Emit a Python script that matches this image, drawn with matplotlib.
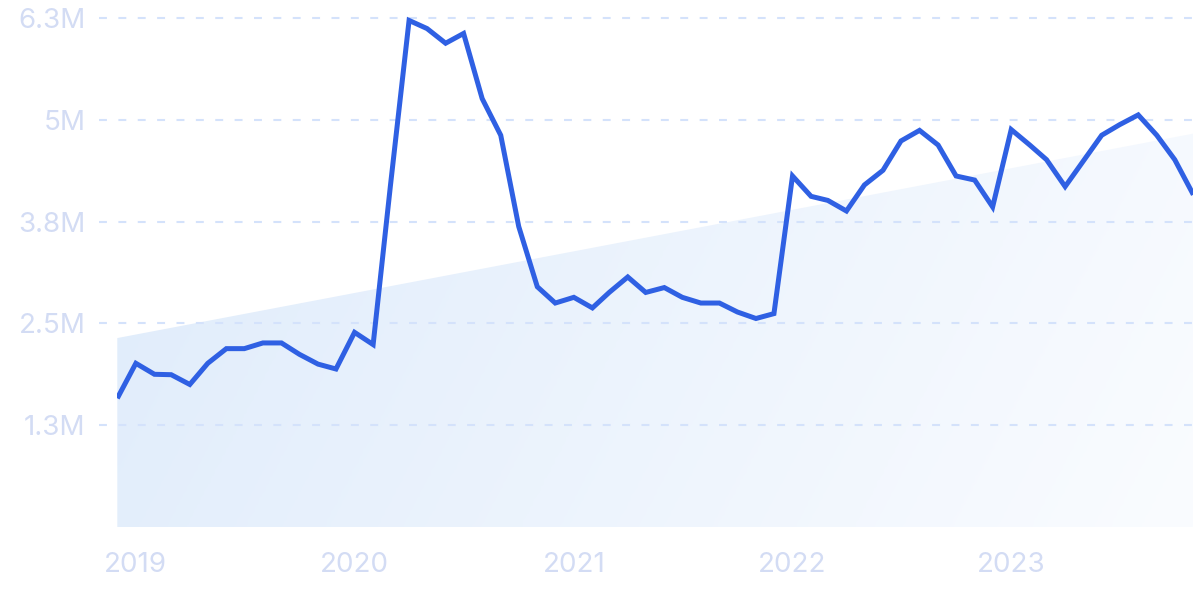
import numpy as np
import pandas as pd
import matplotlib
matplotlib.use("Agg")
import matplotlib.pyplot as plt
import matplotlib.dates as mdates
from matplotlib.colors import LinearSegmentedColormap
from matplotlib.patches import Polygon

# monthly values, Dec 2018 .. Nov 2023 (millions)
months = pd.date_range("2018-12-01", periods=60, freq="MS")
values_m = [1.58, 2.01, 1.875, 1.87, 1.75, 2.01, 2.19, 2.19, 2.26, 2.26,
            2.12, 2.00, 1.94, 2.39, 2.24, 4.20, 6.22, 6.12, 5.94, 6.06,
            5.26, 4.81, 3.69, 2.95, 2.75, 2.82, 2.69, 2.88, 3.07, 2.88,
            2.94, 2.82, 2.75, 2.75, 2.64, 2.56, 2.62, 4.31, 4.06, 4.01,
            3.88, 4.20, 4.38, 4.74, 4.87, 4.69, 4.31, 4.26, 3.93, 4.88,
            4.69, 4.51, 4.18, 4.49, 4.81, 4.94, 5.06, 4.81, 4.51, 4.08]

# trend band (start / end value, millions)
trend_start_m = 2.32
trend_end_m = 4.83

y_ticks = [1.25e6, 2.5e6, 3.75e6, 5e6, 6.25e6]
y_labels = ["1.3M", "2.5M", "3.8M", "5M", "6.3M"]
x_tick_years = ["2019", "2020", "2021", "2022", "2023"]

LINE_COLOR = "#2f60e3"
LABEL_COLOR = "#d3dcf4"
GRID_COLOR = "#d4e2fb"

plt.rcParams["font.family"] = ["Inter", "DejaVu Sans"]

values = np.array(values_m) * 1e6
x = mdates.date2num(months.to_pydatetime())
ymax = 6.348e6

fig = plt.figure(figsize=(12, 5.99), dpi=100)
ax = fig.add_axes([0.09775, 0.1202, 0.8967, 0.8631])
ax.set_xlim(x[0], x[-1])
ax.set_ylim(0, ymax)

# gradient filled trend band
trend_poly = Polygon([(x[0], 0), (x[0], trend_start_m * 1e6),
                      (x[-1], trend_end_m * 1e6), (x[-1], 0)],
                     closed=True, facecolor="none", edgecolor="none")
ax.add_patch(trend_poly)
gx, gy = np.meshgrid(np.linspace(0, 1, 300), np.linspace(0, 1, 200))
grad = 0.8 * gx + 0.2 * (1 - gy)
cmap = LinearSegmentedColormap.from_list("band", ["#deebfb", "#fafcff"])
im = ax.imshow(grad, extent=[x[0], x[-1], ymax, 0], aspect="auto", cmap=cmap,
               zorder=1, interpolation="bicubic")
im.set_clip_path(trend_poly)

# dashed gridlines, slightly past the axes on both sides
for v in y_ticks:
    ax.plot([-0.017, 1.006], [v, v], transform=ax.get_yaxis_transform(),
            color=GRID_COLOR, lw=1.5, dashes=(3.8, 5.5), clip_on=False, zorder=2)

ax.plot(x, values, color=LINE_COLOR, lw=3.6, solid_joinstyle="miter",
        solid_capstyle="butt", zorder=3)

ax.set_yticks(y_ticks, y_labels)
year_pos = [mdates.date2num(pd.Timestamp(f"{y}-01-01")) for y in x_tick_years]
ax.set_xticks(year_pos, x_tick_years)
ax.tick_params(axis="y", length=0, pad=23, labelsize=20, labelcolor=LABEL_COLOR)
ax.tick_params(axis="x", length=0, pad=18, labelsize=20, labelcolor=LABEL_COLOR)
for s in ax.spines.values():
    s.set_visible(False)

fig.savefig("out.png", dpi=100)
